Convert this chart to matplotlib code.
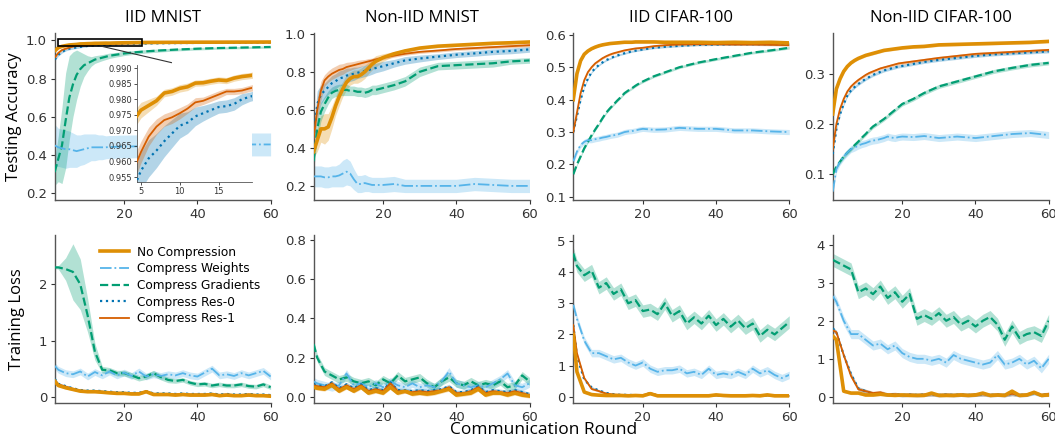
import numpy as np
import matplotlib
matplotlib.use("Agg")
import matplotlib.pyplot as plt
from matplotlib.patches import Rectangle

# rounds where values were read (accuracy rows / loss rows)
ACC_ROUNDS = list(range(1, 21)) + [23, 26, 30, 35, 40, 45, 50, 55, 60]
LOSS_ROUNDS = [1] + list(range(2, 61, 2))

SERIES = ["No Compression", "Compress Weights", "Compress Gradients",
          "Compress Res-0", "Compress Res-1"]
TITLES = ["IID MNIST", "Non-IID MNIST", "IID CIFAR-100", "Non-IID CIFAR-100"]

# === Testing accuracy ===
# IID MNIST
ACC_IID_MNIST_NOCOMP = [0.945, 0.962, 0.969, 0.973, 0.9765, 0.978, 0.9795, 0.982, 0.9825, 0.9835,
                        0.984, 0.9852, 0.9853, 0.9858, 0.9862, 0.986, 0.9868, 0.9873, 0.9876, 0.988,
                        0.9888, 0.9895, 0.990, 0.9905, 0.991, 0.9912, 0.9915, 0.9917, 0.992]
ACC_IID_MNIST_NOCOMP_SD = [0.004, 0.003, 0.003, 0.0028, 0.0025, 0.002, 0.0015, 0.0012, 0.0012, 0.0012,
                           0.0012, 0.001, 0.001, 0.001, 0.001, 0.001, 0.001, 0.001, 0.001, 0.001,
                           0.001, 0.001, 0.001, 0.001, 0.001, 0.001, 0.001, 0.001, 0.001]
ACC_IID_MNIST_WEIGHTS = [0.45, 0.44, 0.435, 0.43, 0.43, 0.425, 0.42, 0.425, 0.43, 0.435,
                         0.44, 0.44, 0.44, 0.44, 0.44, 0.442, 0.442, 0.443, 0.444, 0.444,
                         0.445, 0.446, 0.448, 0.45, 0.452, 0.453, 0.455, 0.455, 0.455]
ACC_IID_MNIST_WEIGHTS_SD = [0.11, 0.1, 0.1, 0.1, 0.095, 0.09, 0.085, 0.08, 0.08, 0.075,
                            0.07, 0.07, 0.065, 0.065, 0.06, 0.06, 0.06, 0.06, 0.06, 0.06,
                            0.06, 0.06, 0.06, 0.06, 0.06, 0.06, 0.06, 0.06, 0.06]
ACC_IID_MNIST_GRAD = [0.31, 0.38, 0.45, 0.58, 0.70, 0.77, 0.82, 0.85, 0.87, 0.88,
                      0.89, 0.90, 0.905, 0.91, 0.915, 0.92, 0.923, 0.926, 0.929, 0.932,
                      0.938, 0.943, 0.948, 0.953, 0.957, 0.96, 0.962, 0.964, 0.966]
ACC_IID_MNIST_GRAD_SD = [0.07, 0.12, 0.2, 0.25, 0.22, 0.17, 0.13, 0.09, 0.06, 0.04,
                         0.025, 0.02, 0.018, 0.016, 0.015, 0.014, 0.013, 0.012, 0.012, 0.011,
                         0.01, 0.009, 0.008, 0.007, 0.007, 0.006, 0.006, 0.006, 0.006]
ACC_IID_MNIST_RES0 = [0.90, 0.925, 0.94, 0.951, 0.957, 0.961, 0.9635, 0.9665, 0.969, 0.9715,
                      0.9725, 0.9745, 0.9755, 0.9765, 0.9775, 0.9778, 0.9785, 0.980, 0.9808, 0.9815,
                      0.983, 0.9842, 0.9855, 0.9865, 0.9872, 0.988, 0.9885, 0.989, 0.9895]
ACC_IID_MNIST_RES0_SD = [0.008, 0.007, 0.006, 0.006, 0.006, 0.006, 0.0055, 0.005, 0.0045, 0.004,
                         0.0035, 0.003, 0.0025, 0.0022, 0.002, 0.002, 0.002, 0.0018, 0.0015, 0.0015,
                         0.0015, 0.0015, 0.0012, 0.0012, 0.001, 0.001, 0.001, 0.001, 0.001]
ACC_IID_MNIST_RES1 = [0.91, 0.935, 0.95, 0.957, 0.963, 0.968, 0.9712, 0.9733, 0.9742, 0.9755,
                      0.977, 0.979, 0.9795, 0.9805, 0.9815, 0.9825, 0.9825, 0.9828, 0.9835, 0.984,
                      0.9852, 0.9862, 0.987, 0.988, 0.9885, 0.989, 0.9895, 0.990, 0.9905]
ACC_IID_MNIST_RES1_SD = [0.006, 0.005, 0.004, 0.004, 0.0035, 0.003, 0.0025, 0.002, 0.002, 0.0018,
                         0.0015, 0.0015, 0.0012, 0.0012, 0.0012, 0.001, 0.001, 0.001, 0.001, 0.001,
                         0.001, 0.001, 0.001, 0.001, 0.001, 0.001, 0.001, 0.001, 0.001]

# Non-IID MNIST
ACC_NIID_MNIST_NOCOMP = [0.38, 0.44, 0.50, 0.50, 0.51, 0.56, 0.62, 0.67, 0.71, 0.745,
                         0.765, 0.775, 0.775, 0.785, 0.80, 0.82, 0.84, 0.855, 0.865, 0.875,
                         0.895, 0.91, 0.925, 0.935, 0.94, 0.945, 0.95, 0.953, 0.957]
ACC_NIID_MNIST_NOCOMP_SD = [0.03, 0.06, 0.07, 0.08, 0.07, 0.06, 0.05, 0.05, 0.04, 0.04,
                            0.035, 0.035, 0.035, 0.035, 0.035, 0.03, 0.03, 0.03, 0.025, 0.02,
                            0.012, 0.01, 0.008, 0.008, 0.008, 0.008, 0.008, 0.008, 0.008]
ACC_NIID_MNIST_WEIGHTS = [0.25, 0.25, 0.25, 0.245, 0.245, 0.25, 0.25, 0.255, 0.265, 0.275,
                          0.265, 0.235, 0.21, 0.21, 0.215, 0.21, 0.205, 0.205, 0.205, 0.205,
                          0.21, 0.2, 0.2, 0.2, 0.2, 0.21, 0.205, 0.2, 0.2]
ACC_NIID_MNIST_WEIGHTS_SD = [0.055, 0.055, 0.055, 0.055, 0.055, 0.055, 0.055, 0.06, 0.07, 0.07,
                             0.065, 0.055, 0.045, 0.045, 0.045, 0.04, 0.04, 0.04, 0.04, 0.04,
                             0.04, 0.035, 0.035, 0.035, 0.035, 0.035, 0.035, 0.035, 0.035]
ACC_NIID_MNIST_GRAD = [0.33, 0.50, 0.59, 0.63, 0.665, 0.69, 0.70, 0.705, 0.705, 0.705,
                       0.70, 0.70, 0.695, 0.695, 0.69, 0.695, 0.705, 0.705, 0.71, 0.715,
                       0.73, 0.75, 0.80, 0.83, 0.835, 0.84, 0.845, 0.855, 0.86]
ACC_NIID_MNIST_GRAD_SD = [0.05, 0.06, 0.05, 0.04, 0.035, 0.03, 0.03, 0.03, 0.03, 0.03,
                          0.025, 0.025, 0.025, 0.025, 0.025, 0.025, 0.025, 0.025, 0.025, 0.025,
                          0.025, 0.025, 0.025, 0.02, 0.02, 0.02, 0.02, 0.015, 0.015]
ACC_NIID_MNIST_RES0 = [0.45, 0.63, 0.68, 0.70, 0.72, 0.74, 0.75, 0.765, 0.77, 0.78,
                       0.785, 0.79, 0.795, 0.80, 0.805, 0.81, 0.815, 0.82, 0.825, 0.83,
                       0.845, 0.86, 0.87, 0.88, 0.89, 0.897, 0.905, 0.91, 0.918]
ACC_NIID_MNIST_RES0_SD = [0.06, 0.07, 0.05, 0.04, 0.04, 0.04, 0.04, 0.04, 0.04, 0.04,
                          0.035, 0.035, 0.03, 0.03, 0.03, 0.03, 0.028, 0.025, 0.025, 0.025,
                          0.02, 0.02, 0.018, 0.015, 0.015, 0.015, 0.015, 0.015, 0.015]
ACC_NIID_MNIST_RES1 = [0.45, 0.60, 0.70, 0.755, 0.775, 0.79, 0.80, 0.81, 0.815, 0.825,
                       0.83, 0.835, 0.84, 0.845, 0.85, 0.855, 0.86, 0.865, 0.87, 0.875,
                       0.885, 0.895, 0.905, 0.912, 0.92, 0.925, 0.93, 0.935, 0.94]
ACC_NIID_MNIST_RES1_SD = [0.04, 0.06, 0.05, 0.03, 0.03, 0.03, 0.03, 0.03, 0.028, 0.025,
                          0.022, 0.02, 0.02, 0.018, 0.015, 0.015, 0.012, 0.012, 0.01, 0.01,
                          0.008, 0.008, 0.008, 0.008, 0.008, 0.008, 0.008, 0.008, 0.008]

# IID CIFAR-100
ACC_IID_CIFAR_NOCOMP = [0.40, 0.48, 0.52, 0.54, 0.55, 0.557, 0.562, 0.566, 0.569, 0.571,
                        0.573, 0.574, 0.575, 0.576, 0.577, 0.577, 0.577, 0.578, 0.578, 0.578,
                        0.578, 0.577, 0.577, 0.577, 0.576, 0.577, 0.576, 0.577, 0.575]
ACC_IID_CIFAR_WEIGHTS = [0.21, 0.24, 0.26, 0.27, 0.275, 0.275, 0.278, 0.28, 0.283, 0.285,
                         0.288, 0.29, 0.292, 0.296, 0.30, 0.302, 0.303, 0.305, 0.308, 0.31,
                         0.307, 0.308, 0.313, 0.31, 0.31, 0.305, 0.305, 0.302, 0.30]
ACC_IID_CIFAR_GRAD = [0.17, 0.20, 0.225, 0.25, 0.27, 0.29, 0.308, 0.325, 0.343, 0.36,
                      0.373, 0.385, 0.397, 0.408, 0.42, 0.428, 0.435, 0.443, 0.45, 0.456,
                      0.472, 0.484, 0.50, 0.514, 0.525, 0.535, 0.545, 0.552, 0.56]
ACC_IID_CIFAR_RES0 = [0.30, 0.35, 0.40, 0.44, 0.465, 0.485, 0.497, 0.507, 0.515, 0.522,
                      0.527, 0.532, 0.536, 0.54, 0.543, 0.546, 0.549, 0.551, 0.553, 0.555,
                      0.56, 0.563, 0.566, 0.569, 0.57, 0.571, 0.571, 0.571, 0.571]
ACC_IID_CIFAR_RES1 = [0.30, 0.36, 0.42, 0.46, 0.485, 0.50, 0.512, 0.52, 0.528, 0.534,
                      0.539, 0.543, 0.546, 0.549, 0.552, 0.554, 0.556, 0.558, 0.559, 0.56,
                      0.565, 0.568, 0.57, 0.571, 0.571, 0.57, 0.57, 0.569, 0.568]

# Non-IID CIFAR-100
ACC_NIID_CIFAR_NOCOMP = [0.22, 0.27, 0.29, 0.305, 0.315, 0.322, 0.327, 0.331, 0.334, 0.337,
                         0.339, 0.341, 0.343, 0.345, 0.347, 0.348, 0.349, 0.35, 0.351, 0.352,
                         0.354, 0.355, 0.358, 0.359, 0.36, 0.361, 0.362, 0.363, 0.365]
ACC_NIID_CIFAR_WEIGHTS = [0.065, 0.11, 0.125, 0.135, 0.143, 0.15, 0.153, 0.157, 0.16, 0.162,
                          0.165, 0.167, 0.168, 0.17, 0.172, 0.175, 0.173, 0.172, 0.174, 0.175,
                          0.174, 0.176, 0.172, 0.175, 0.172, 0.176, 0.18, 0.182, 0.178]
ACC_NIID_CIFAR_GRAD = [0.10, 0.115, 0.125, 0.135, 0.143, 0.15, 0.158, 0.165, 0.173, 0.18,
                       0.188, 0.195, 0.20, 0.205, 0.21, 0.216, 0.222, 0.228, 0.234, 0.24,
                       0.25, 0.262, 0.275, 0.285, 0.295, 0.305, 0.312, 0.318, 0.322]
ACC_NIID_CIFAR_RES0 = [0.14, 0.19, 0.22, 0.24, 0.257, 0.267, 0.274, 0.28, 0.285, 0.29,
                       0.294, 0.298, 0.301, 0.304, 0.307, 0.309, 0.311, 0.313, 0.315, 0.316,
                       0.32, 0.324, 0.328, 0.332, 0.336, 0.339, 0.341, 0.343, 0.345]
ACC_NIID_CIFAR_RES1 = [0.15, 0.20, 0.23, 0.25, 0.265, 0.275, 0.282, 0.288, 0.293, 0.298,
                       0.302, 0.305, 0.308, 0.311, 0.313, 0.315, 0.317, 0.319, 0.321, 0.322,
                       0.325, 0.328, 0.332, 0.336, 0.34, 0.342, 0.344, 0.346, 0.348]

# === Training loss ===
# IID MNIST
LOSS_IID_MNIST_NOCOMP = [0.28, 0.20, 0.16, 0.13, 0.10, 0.09, 0.09, 0.08, 0.07, 0.06, 0.06,
                         0.05, 0.05, 0.09, 0.04, 0.04, 0.04, 0.03, 0.04, 0.03, 0.03,
                         0.03, 0.04, 0.02, 0.03, 0.02, 0.02, 0.03, 0.02, 0.02, 0.01]
LOSS_IID_MNIST_WEIGHTS = [0.55, 0.48, 0.42, 0.40, 0.45, 0.36, 0.44, 0.38, 0.45, 0.38, 0.43,
                          0.37, 0.45, 0.36, 0.40, 0.37, 0.40, 0.38, 0.42, 0.38, 0.36,
                          0.43, 0.50, 0.38, 0.40, 0.37, 0.42, 0.38, 0.42, 0.46, 0.36]
LOSS_IID_MNIST_GRAD = [2.30, 2.30, 2.27, 2.22, 2.00, 1.45, 0.80, 0.48, 0.47, 0.42, 0.42,
                       0.38, 0.33, 0.36, 0.42, 0.35, 0.30, 0.28, 0.30, 0.25, 0.22,
                       0.23, 0.20, 0.22, 0.20, 0.20, 0.22, 0.19, 0.18, 0.22, 0.17]
LOSS_IID_MNIST_GRAD_SD = [0.02, 0.03, 0.2, 0.5, 0.45, 0.3, 0.15, 0.06, 0.05, 0.05, 0.05,
                          0.05, 0.05, 0.05, 0.05, 0.05, 0.05, 0.04, 0.04, 0.04, 0.04,
                          0.04, 0.04, 0.04, 0.04, 0.04, 0.04, 0.04, 0.04, 0.04, 0.04]
LOSS_IID_MNIST_RES0 = [0.32, 0.23, 0.19, 0.15, 0.12, 0.11, 0.11, 0.10, 0.09, 0.08, 0.08,
                       0.07, 0.07, 0.10, 0.06, 0.06, 0.06, 0.05, 0.06, 0.05, 0.05,
                       0.05, 0.06, 0.04, 0.05, 0.04, 0.04, 0.05, 0.04, 0.04, 0.03]
LOSS_IID_MNIST_RES1 = [0.30, 0.22, 0.18, 0.14, 0.11, 0.10, 0.10, 0.09, 0.08, 0.07, 0.07,
                       0.06, 0.06, 0.10, 0.05, 0.05, 0.05, 0.04, 0.05, 0.04, 0.04,
                       0.04, 0.05, 0.03, 0.04, 0.03, 0.03, 0.04, 0.03, 0.03, 0.02]

# Non-IID MNIST
LOSS_NIID_MNIST_NOCOMP = [0.05, 0.045, 0.04, 0.06, 0.03, 0.05, 0.03, 0.05, 0.02, 0.03, 0.02,
                          0.05, 0.02, 0.03, 0.015, 0.02, 0.015, 0.02, 0.03, 0.04, 0.01,
                          0.015, 0.02, 0.04, 0.01, 0.02, 0.02, 0.01, 0.02, 0.01, 0.005]
LOSS_NIID_MNIST_WEIGHTS = [0.08, 0.07, 0.06, 0.05, 0.06, 0.12, 0.06, 0.07, 0.05, 0.07, 0.05,
                           0.08, 0.06, 0.05, 0.07, 0.05, 0.06, 0.05, 0.08, 0.13, 0.07,
                           0.06, 0.05, 0.06, 0.05, 0.07, 0.09, 0.12, 0.06, 0.05, 0.07]
LOSS_NIID_MNIST_GRAD = [0.27, 0.20, 0.13, 0.11, 0.09, 0.10, 0.08, 0.07, 0.08, 0.06, 0.09,
                        0.07, 0.11, 0.08, 0.09, 0.10, 0.07, 0.05, 0.08, 0.10, 0.07,
                        0.06, 0.08, 0.06, 0.07, 0.06, 0.08, 0.05, 0.06, 0.11, 0.08]
LOSS_NIID_MNIST_RES0 = [0.065, 0.06, 0.055, 0.075, 0.045, 0.065, 0.045, 0.065, 0.035, 0.045, 0.035,
                        0.075, 0.035, 0.035, 0.03, 0.035, 0.03, 0.035, 0.04, 0.055, 0.025,
                        0.025, 0.035, 0.055, 0.025, 0.035, 0.03, 0.025, 0.035, 0.025, 0.015]
LOSS_NIID_MNIST_RES1 = [0.06, 0.055, 0.05, 0.07, 0.04, 0.06, 0.04, 0.06, 0.03, 0.04, 0.03,
                        0.07, 0.03, 0.03, 0.025, 0.03, 0.025, 0.03, 0.035, 0.05, 0.02,
                        0.02, 0.03, 0.05, 0.02, 0.03, 0.025, 0.02, 0.03, 0.02, 0.01]

# IID CIFAR-100
LOSS_IID_CIFAR_NOCOMP = [2.0, 0.8, 0.15, 0.07, 0.05, 0.04, 0.04, 0.04, 0.03, 0.04, 0.03,
                         0.1, 0.03, 0.03, 0.03, 0.03, 0.03, 0.03, 0.03, 0.03, 0.06,
                         0.04, 0.03, 0.03, 0.03, 0.04, 0.03, 0.06, 0.03, 0.03, 0.03]
LOSS_IID_CIFAR_WEIGHTS = [2.95, 2.5, 1.8, 1.4, 1.4, 1.3, 1.2, 1.25, 1.1, 1.0, 1.1,
                          0.9, 0.8, 0.85, 0.85, 0.9, 0.75, 0.8, 0.7, 0.9, 0.7,
                          0.75, 0.7, 0.8, 0.7, 0.9, 0.75, 0.85, 0.7, 0.6, 0.7]
LOSS_IID_CIFAR_GRAD = [4.6, 4.2, 3.9, 4.05, 3.5, 3.65, 3.3, 3.45, 3.0, 3.1, 2.75,
                       2.8, 2.65, 3.0, 2.6, 2.75, 2.35, 2.55, 2.35, 2.6, 2.3,
                       2.5, 2.25, 2.45, 2.2, 2.35, 1.95, 2.15, 2.0, 2.2, 2.4]
LOSS_IID_CIFAR_RES0 = [2.3, 1.3, 0.55, 0.3, 0.2, 0.12, 0.08, 0.06, 0.06, 0.05, 0.05,
                       0.11, 0.05, 0.05, 0.05, 0.05, 0.04, 0.05, 0.04, 0.04, 0.05,
                       0.04, 0.04, 0.04, 0.04, 0.04, 0.04, 0.05, 0.04, 0.04, 0.04]
LOSS_IID_CIFAR_RES1 = [2.3, 1.4, 0.6, 0.25, 0.18, 0.1, 0.07, 0.06, 0.06, 0.05, 0.05,
                       0.12, 0.05, 0.05, 0.05, 0.05, 0.04, 0.05, 0.04, 0.04, 0.05,
                       0.04, 0.04, 0.04, 0.04, 0.04, 0.04, 0.05, 0.04, 0.04, 0.04]

# Non-IID CIFAR-100
LOSS_NIID_CIFAR_NOCOMP = [1.6, 1.5, 0.15, 0.1, 0.1, 0.05, 0.05, 0.07, 0.05, 0.04, 0.05,
                          0.04, 0.04, 0.04, 0.1, 0.04, 0.04, 0.04, 0.05, 0.04, 0.05,
                          0.1, 0.04, 0.05, 0.04, 0.15, 0.04, 0.05, 0.12, 0.04, 0.05]
LOSS_NIID_CIFAR_WEIGHTS = [2.65, 2.5, 2.0, 1.65, 1.65, 1.5, 1.35, 1.4, 1.25, 1.35, 1.15,
                           1.05, 1.0, 1.0, 0.95, 1.0, 0.9, 1.1, 1.0, 0.95, 0.9,
                           0.85, 0.9, 1.1, 0.85, 0.9, 1.0, 0.85, 0.95, 0.75, 1.0]
LOSS_NIID_CIFAR_GRAD = [3.6, 3.55, 3.45, 3.35, 2.75, 2.85, 2.7, 2.9, 2.6, 2.75, 2.5,
                        2.7, 2.05, 2.15, 2.05, 2.2, 2.0, 2.1, 1.9, 2.0, 1.85,
                        2.0, 2.1, 1.9, 1.5, 1.85, 1.55, 1.65, 1.7, 1.6, 2.0]
LOSS_NIID_CIFAR_RES0 = [1.8, 1.7, 1.1, 0.6, 0.22, 0.15, 0.08, 0.1, 0.06, 0.07, 0.05,
                        0.06, 0.05, 0.06, 0.07, 0.05, 0.06, 0.05, 0.06, 0.05, 0.06,
                        0.07, 0.05, 0.06, 0.05, 0.08, 0.05, 0.06, 0.1, 0.05, 0.07]
LOSS_NIID_CIFAR_RES1 = [1.75, 1.7, 1.1, 0.55, 0.2, 0.15, 0.1, 0.12, 0.06, 0.07, 0.05,
                        0.06, 0.05, 0.06, 0.07, 0.05, 0.06, 0.05, 0.06, 0.05, 0.06,
                        0.07, 0.05, 0.06, 0.05, 0.08, 0.05, 0.06, 0.12, 0.05, 0.08]

COLORS = ["#DE8F05", "#56B4E9", "#029E73", "#0173B2", "#D55E00"]
STYLES = ["-", "-.", "--", ":", "-"]
WIDTHS = [2.6, 1.3, 1.6, 1.6, 1.3]

acc_panels = [
    [(ACC_IID_MNIST_NOCOMP, ACC_IID_MNIST_NOCOMP_SD), (ACC_IID_MNIST_WEIGHTS, ACC_IID_MNIST_WEIGHTS_SD),
     (ACC_IID_MNIST_GRAD, ACC_IID_MNIST_GRAD_SD), (ACC_IID_MNIST_RES0, ACC_IID_MNIST_RES0_SD),
     (ACC_IID_MNIST_RES1, ACC_IID_MNIST_RES1_SD)],
    [(ACC_NIID_MNIST_NOCOMP, ACC_NIID_MNIST_NOCOMP_SD), (ACC_NIID_MNIST_WEIGHTS, ACC_NIID_MNIST_WEIGHTS_SD),
     (ACC_NIID_MNIST_GRAD, ACC_NIID_MNIST_GRAD_SD), (ACC_NIID_MNIST_RES0, ACC_NIID_MNIST_RES0_SD),
     (ACC_NIID_MNIST_RES1, ACC_NIID_MNIST_RES1_SD)],
    [(ACC_IID_CIFAR_NOCOMP, 0.003), (ACC_IID_CIFAR_WEIGHTS, 0.008), (ACC_IID_CIFAR_GRAD, 0.004),
     (ACC_IID_CIFAR_RES0, 0.003), (ACC_IID_CIFAR_RES1, 0.003)],
    [(ACC_NIID_CIFAR_NOCOMP, 0.003), (ACC_NIID_CIFAR_WEIGHTS, 0.007), (ACC_NIID_CIFAR_GRAD, 0.004),
     (ACC_NIID_CIFAR_RES0, 0.003), (ACC_NIID_CIFAR_RES1, 0.003)],
]
loss_panels = [
    [(LOSS_IID_MNIST_NOCOMP, 0.02), (LOSS_IID_MNIST_WEIGHTS, 0.06), (LOSS_IID_MNIST_GRAD, LOSS_IID_MNIST_GRAD_SD),
     (LOSS_IID_MNIST_RES0, 0.02), (LOSS_IID_MNIST_RES1, 0.02)],
    [(LOSS_NIID_MNIST_NOCOMP, 0.01), (LOSS_NIID_MNIST_WEIGHTS, 0.02), (LOSS_NIID_MNIST_GRAD, 0.02),
     (LOSS_NIID_MNIST_RES0, 0.01), (LOSS_NIID_MNIST_RES1, 0.01)],
    [(LOSS_IID_CIFAR_NOCOMP, 0.04), (LOSS_IID_CIFAR_WEIGHTS, 0.12), (LOSS_IID_CIFAR_GRAD, 0.2),
     (LOSS_IID_CIFAR_RES0, 0.03), (LOSS_IID_CIFAR_RES1, 0.03)],
    [(LOSS_NIID_CIFAR_NOCOMP, 0.04), (LOSS_NIID_CIFAR_WEIGHTS, 0.12), (LOSS_NIID_CIFAR_GRAD, 0.17),
     (LOSS_NIID_CIFAR_RES0, 0.05), (LOSS_NIID_CIFAR_RES1, 0.05)],
]

ACC_YLIMS = [(0.163, 1.04), (0.125, 1.005), (0.09, 0.606), (0.048, 0.382)]
ACC_YTICKS = [[0.2, 0.4, 0.6, 0.8, 1.0], [0.2, 0.4, 0.6, 0.8, 1.0],
              [0.1, 0.2, 0.3, 0.4, 0.5, 0.6], [0.1, 0.2, 0.3]]
LOSS_YLIMS = [(-0.11, 2.88), (-0.03, 0.826), (-0.2, 5.2), (-0.16, 4.26)]
LOSS_YTICKS = [[0, 1, 2], [0.0, 0.2, 0.4, 0.6, 0.8], [0, 1, 2, 3, 4, 5], [0, 1, 2, 3, 4]]

LABEL_FONT = "Open Sans"
TICK_GREY = "#333333"
SPINE_GREY = "#555555"


def style_axes(ax, tick_size=9.5):
    for side in ("top", "right"):
        ax.spines[side].set_visible(False)
    for side in ("left", "bottom"):
        ax.spines[side].set_color(SPINE_GREY)
        ax.spines[side].set_linewidth(1.0)
    ax.tick_params(labelsize=tick_size, colors=TICK_GREY, length=3, width=0.8, pad=2.5)


def draw_series(ax, x, series, z0=2):
    x = np.asarray(x)
    for k, (vals, sd) in enumerate(series):
        y = np.asarray(vals, dtype=float)
        s = np.broadcast_to(np.asarray(sd, dtype=float), y.shape)
        ax.fill_between(x, y - s, y + s, color=COLORS[k], alpha=0.3, lw=0, zorder=z0)
    order = [2, 1, 3, 4, 0]
    for k in order:
        vals, _ = series[k]
        ax.plot(x, vals, color=COLORS[k], ls=STYLES[k], lw=WIDTHS[k],
                label=SERIES[k], zorder=z0 + 1 + order.index(k))


fig = plt.figure(figsize=(10.55, 4.38), dpi=100)
lefts = [0.0518, 0.2972, 0.5434, 0.7893]
width = 0.2047

for i in range(4):
    ax = fig.add_axes([lefts[i], 0.543, width, 0.382])
    draw_series(ax, ACC_ROUNDS, acc_panels[i])
    ax.set_xlim(1, 60)
    ax.set_ylim(*ACC_YLIMS[i])
    ax.set_xticks([20, 40, 60])
    ax.set_yticks(ACC_YTICKS[i])
    style_axes(ax)
    ax.set_title(TITLES[i], fontsize=12, family=LABEL_FONT, pad=8)
    if i == 0:
        ax.set_ylabel("Testing Accuracy", fontsize=12, family=LABEL_FONT, labelpad=3)
        # zoom box + connector
        ax.add_patch(Rectangle((2, 0.97), 22.8, 0.039, fill=False, ec="black", lw=1.2, zorder=10))
        ax.plot([14.2, 32.9], [0.968, 0.884], color="#333333", lw=0.8, zorder=10)
        axin = fig.add_axes([0.1299, 0.5845, 0.109, 0.267])
        draw_series(axin, ACC_ROUNDS, acc_panels[0])
        axin.set_xlim(4.5, 19.3)
        axin.set_ylim(0.9534, 0.991)
        axin.set_xticks([5, 10, 15])
        axin.set_yticks([0.955, 0.96, 0.965, 0.97, 0.975, 0.98, 0.985, 0.99])
        axin.set_yticklabels(["0.955", "0.960", "0.965", "0.970", "0.975", "0.980", "0.985", "0.990"])
        style_axes(axin, tick_size=6)
        axin.tick_params(length=2, width=0.6, pad=1.5)
        for side in ("left", "bottom"):
            axin.spines[side].set_linewidth(0.6)
        axin.set_facecolor("white")
        axin.set_zorder(5)

for i in range(4):
    ax = fig.add_axes([lefts[i], 0.080, width, 0.384])
    draw_series(ax, LOSS_ROUNDS, loss_panels[i])
    ax.set_xlim(1, 60)
    ax.set_ylim(*LOSS_YLIMS[i])
    ax.set_xticks([20, 40, 60])
    ax.set_yticks(LOSS_YTICKS[i])
    style_axes(ax)
    if i == 0:
        ax.set_ylabel("Training Loss", fontsize=12, family=LABEL_FONT, labelpad=10)
        handles, labels = ax.get_legend_handles_labels()
        idx = [labels.index(s) for s in SERIES]
        ax.legend([handles[j] for j in idx], [labels[j] for j in idx],
                  loc="upper left", bbox_to_anchor=(0.21, 0.935), frameon=False,
                  fontsize=8.7, handlelength=2.4, handletextpad=0.7,
                  labelspacing=0.3, borderpad=0, borderaxespad=0)

fig.text(0.515, 0.0, "Communication Round", ha="center", va="bottom",
         fontsize=12.5, family=LABEL_FONT)

fig.savefig("out.png", dpi=100)
